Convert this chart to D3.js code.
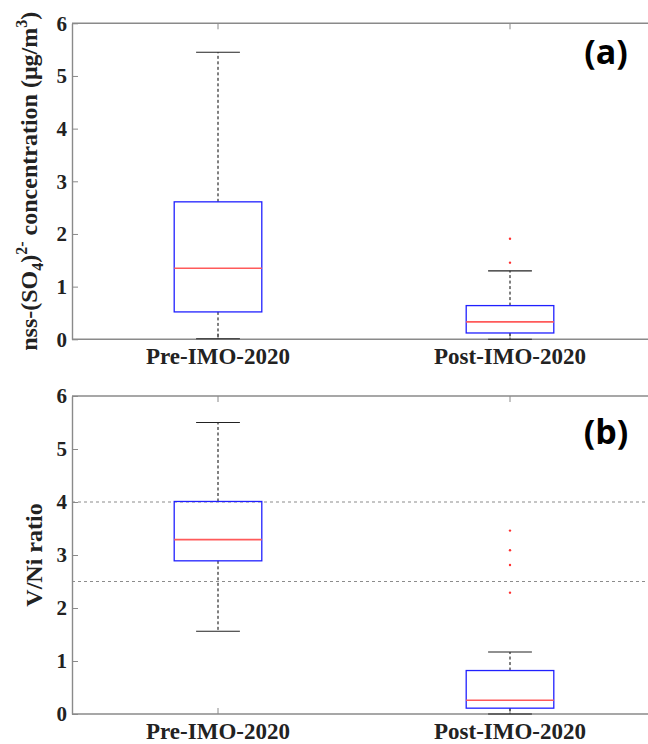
<!DOCTYPE html>
<html>
<head>
<meta charset="utf-8">
<script src="https://cdn.jsdelivr.net/npm/d3@7"></script>
<style>
  html, body { margin: 0; padding: 0; background: #fff; }
  svg { display: block; }
</style>
</head>
<body>
<svg id="chart" width="648" height="744"></svg>
<script>
// Groups compared in both panels
const categories = ["Pre-IMO-2020", "Post-IMO-2020"];

// Panel (a): nss-sulfate concentration box statistics (µg/m3), per category
const sulfateLow    = [0.01, 0.00];
const sulfateQ1     = [0.52, 0.12];
const sulfateMedian = [1.35, 0.33];
const sulfateQ3     = [2.61, 0.64];
const sulfateHigh   = [5.45, 1.30];
const sulfateOutliers = [[], [1.455, 1.91]];

// Panel (b): V/Ni ratio box statistics, per category
const ratioLow    = [1.56, 0.00];
const ratioQ1     = [2.89, 0.11];
const ratioMedian = [3.29, 0.26];
const ratioQ3     = [4.01, 0.82];
const ratioHigh   = [5.50, 1.17];
const ratioOutliers = [[], [2.29, 2.81, 3.09, 3.46]];

// Reference ratio thresholds in panel (b)
const ratioRefLines = [2.5, 4];

const yTicks = [0, 1, 2, 3, 4, 5, 6];

const svg = d3.select("#chart");
const serif = "'Liberation Serif', 'Times New Roman', serif";
const textColor = "#222";
const axisColor = "#8a8a8a";

function buildStats(low, q1, med, q3, high, outliers) {
  return categories.map((c, i) => ({
    cat: c, low: low[i], q1: q1[i], med: med[i], q3: q3[i], high: high[i], outliers: outliers[i]
  }));
}

function drawPanel(cfg) {
  const g = svg.append("g");
  const x = d3.scaleBand().domain(categories).range([cfg.left, cfg.right]).padding(0);
  const y = d3.scaleLinear().domain([0, 6]).range([cfg.bottom, cfg.top]);
  const bw = x.bandwidth();
  const cx = c => x(c) + bw / 2;
  const boxW = bw * 0.3;
  const capW = bw * 0.15;

  // reference lines
  (cfg.refLines || []).forEach(v => {
    g.append("line")
      .attr("x1", cfg.left).attr("x2", 648)
      .attr("y1", y(v)).attr("y2", y(v))
      .attr("stroke", "#8c8c8c").attr("stroke-width", 1.2)
      .attr("stroke-dasharray", "3,3");
  });

  // frame: left, bottom and top edges
  g.append("line").attr("x1", cfg.left).attr("x2", 648).attr("y1", y(0)).attr("y2", y(0))
    .attr("stroke", axisColor).attr("stroke-width", 1.4);
  g.append("line").attr("x1", cfg.left).attr("x2", 648).attr("y1", y(6)).attr("y2", y(6))
    .attr("stroke", axisColor).attr("stroke-width", 1.4);

  // y axis with inward ticks
  const yAxis = d3.axisLeft(y).tickValues(yTicks).tickFormat(d3.format("d"))
    .tickSizeInner(-6).tickSizeOuter(0).tickPadding(10);
  const ya = g.append("g").attr("transform", `translate(${cfg.left},0)`).call(yAxis);
  ya.select(".domain").attr("stroke", axisColor).attr("stroke-width", 1.4);
  ya.selectAll(".tick line").attr("stroke", axisColor).attr("stroke-width", 1);
  ya.selectAll(".tick text")
    .attr("font-family", serif).attr("font-weight", "bold").attr("font-size", 21)
    .attr("fill", textColor).attr("x", -5);

  // category ticks on bottom (pointing up) and top (pointing down)
  categories.forEach(c => {
    g.append("line").attr("x1", cx(c)).attr("x2", cx(c)).attr("y1", y(0)).attr("y2", y(0) - 6)
      .attr("stroke", axisColor).attr("stroke-width", 1);
    g.append("line").attr("x1", cx(c)).attr("x2", cx(c)).attr("y1", y(6)).attr("y2", y(6) + 6)
      .attr("stroke", axisColor).attr("stroke-width", 1);
    g.append("text").attr("x", cx(c)).attr("y", y(0) + 25)
      .attr("text-anchor", "middle")
      .attr("font-family", serif).attr("font-weight", "bold").attr("font-size", 23)
      .attr("fill", textColor).text(c);
  });

  // boxes
  const box = g.selectAll(".box").data(cfg.stats).enter().append("g").attr("class", "box");
  // whiskers (dashed)
  box.append("line").attr("x1", d => cx(d.cat)).attr("x2", d => cx(d.cat))
    .attr("y1", d => y(d.q3)).attr("y2", d => y(d.high))
    .attr("stroke", "#000").attr("stroke-width", 1).attr("stroke-dasharray", "3,2.5");
  box.append("line").attr("x1", d => cx(d.cat)).attr("x2", d => cx(d.cat))
    .attr("y1", d => y(d.q1)).attr("y2", d => y(d.low))
    .attr("stroke", "#000").attr("stroke-width", 1).attr("stroke-dasharray", "3,2.5");
  // whisker caps
  ["high", "low"].forEach(k => {
    box.append("line")
      .attr("x1", d => cx(d.cat) - capW / 2).attr("x2", d => cx(d.cat) + capW / 2)
      .attr("y1", d => y(d[k])).attr("y2", d => y(d[k]))
      .attr("stroke", "#222").attr("stroke-width", 1.1);
  });
  // box body
  box.append("rect")
    .attr("x", d => cx(d.cat) - boxW / 2).attr("width", boxW)
    .attr("y", d => y(d.q3)).attr("height", d => y(d.q1) - y(d.q3))
    .attr("fill", "none").attr("stroke", "#2020ff").attr("stroke-width", 1.3);
  // median
  box.append("line")
    .attr("x1", d => cx(d.cat) - boxW / 2).attr("x2", d => cx(d.cat) + boxW / 2)
    .attr("y1", d => y(d.med)).attr("y2", d => y(d.med))
    .attr("stroke", "#ff5a5a").attr("stroke-width", 1.6);
  // outliers
  box.selectAll(".out").data(d => d.outliers.map(v => ({ cat: d.cat, v }))).enter()
    .append("circle").attr("class", "out")
    .attr("cx", d => cx(d.cat)).attr("cy", d => y(d.v)).attr("r", 1.2)
    .attr("fill", "#ff3030");

  // panel tag
  g.append("text").attr("x", 606).attr("y", cfg.tagY)
    .attr("text-anchor", "middle")
    .attr("font-family", "'Open Sans', sans-serif").attr("font-weight", "bold")
    .attr("font-size", 34).attr("fill", "#000").text(cfg.tag);

  return { y, g };
}

// Panel (a)
const pa = drawPanel({
  left: 72, right: 656, top: 23.3, bottom: 339.3,
  stats: buildStats(sulfateLow, sulfateQ1, sulfateMedian, sulfateQ3, sulfateHigh, sulfateOutliers),
  tag: "(a)", tagY: 64
});
const la = pa.g.append("text")
  .attr("transform", `translate(37,${(23.3 + 339.3) / 2}) rotate(-90)`)
  .attr("text-anchor", "middle")
  .attr("font-family", serif).attr("font-weight", "bold").attr("font-size", 24)
  .attr("fill", textColor);
la.append("tspan").text("nss-(SO");
la.append("tspan").attr("font-size", 16).attr("dy", 6).text("4");
la.append("tspan").attr("dy", -6).text(")");
la.append("tspan").attr("font-size", 16).attr("dy", -10).text("2-");
la.append("tspan").attr("dy", 10).text(" concentration (μg/m");
la.append("tspan").attr("font-size", 16).attr("dy", -10).text("3");
la.append("tspan").attr("dy", 10).text(")");

// Panel (b)
const pb = drawPanel({
  left: 72, right: 656, top: 396, bottom: 714,
  stats: buildStats(ratioLow, ratioQ1, ratioMedian, ratioQ3, ratioHigh, ratioOutliers),
  refLines: ratioRefLines,
  tag: "(b)", tagY: 444
});
pb.g.append("text")
  .attr("transform", `translate(42,${(396 + 714) / 2}) rotate(-90)`)
  .attr("text-anchor", "middle")
  .attr("font-family", serif).attr("font-weight", "bold").attr("font-size", 24)
  .attr("fill", textColor).text("V/Ni ratio");
</script>
</body>
</html>
